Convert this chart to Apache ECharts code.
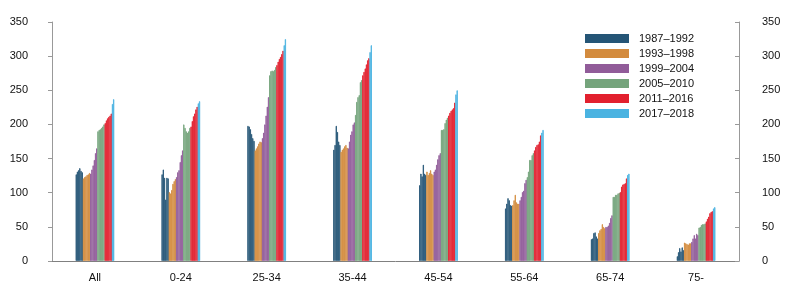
<!DOCTYPE html>
<html>
<head>
<meta charset="utf-8">
<script src="https://cdn.jsdelivr.net/npm/echarts@6/dist/echarts.min.js"></script>
<style>
html,body{margin:0;padding:0;background:#fff;}
#c{width:796px;height:295px;}
</style>
</head>
<body>
<div id="c"></div>
<script>
// Categories (age groups)
var categories = ['All', '0-24', '25-34', '35-44', '45-54', '55-64', '65-74', '75-'];
// Periods (legend) and years belonging to each
var periods = ['1987\u20131992', '1993\u20131998', '1999\u20132004', '2005\u20132010', '2011\u20132016', '2017\u20132018'];
var periodYears = [6, 6, 6, 6, 6, 2];
var periodColors = ['#255576', '#d38b3e', '#915c99', '#75a47c', '#e2202e', '#4ab3e1'];
var yTicks = [0, 50, 100, 150, 200, 250, 300, 350];

// Values per age group, one per year 1987..2018
var vAll   = [127,131,133,136,132,130, 121,123,124,126,127,129, 128,134,140,148,158,165, 190,192,193,195,197,200, 202,206,209,211,213,216, 230,237];
var v0_24  = [127,134,122,90,122,121, 101,99,104,113,117,120, 123,130,133,145,155,162, 200,195,190,188,190,195, 197,205,212,216,222,226, 231,234];
var v25_34 = [198,197,193,186,180,176, 162,165,168,172,175,174, 180,188,200,213,226,240, 272,278,279,278,280,284, 287,292,296,299,303,308, 316,325];
var v35_44 = [163,170,198,189,175,170, 160,163,165,168,170,166, 165,175,185,190,200,203, 214,233,240,243,262,265, 272,277,282,288,294,297, 306,316];
var v45_54 = [111,128,124,141,128,126, 131,126,129,133,128,126, 131,134,141,149,155,158, 192,192,193,202,207,210, 213,217,220,222,224,232, 244,250];
var v55_64 = [77,84,92,89,82,81, 82,89,97,86,84,84, 89,94,101,103,114,119, 123,131,148,148,155,158, 162,167,170,171,175,184, 188,192];
var v65_74 = [32,33,41,42,36,33, 41,45,47,54,50,48, 50,50,52,56,63,67, 94,94,97,97,99,100, 101,109,112,113,114,121, 126,128];
var v75    = [7,13,19,14,20,16, 27,26,25,24,26,26, 28,33,38,33,40,38, 49,50,53,54,54,55, 58,62,65,70,72,73, 77,79];

var groups = [vAll, v0_24, v25_34, v35_44, v45_54, v55_64, v65_74, v75];

var series = [];
var yearIdx = 0;
periods.forEach(function (p, pi) {
  for (var k = 0; k < periodYears[pi]; k++) {
    var idx = yearIdx;
    series.push({
      type: 'bar',
      name: p,
      data: groups.map(function (g) { return g[idx]; }),
      itemStyle: { color: periodColors[pi], borderColor: periodColors[pi], borderWidth: 0.8 },
      barGap: '0%',
      barCategoryGap: '55%',
      silent: true
    });
    yearIdx++;
  }
});

var font = 'Liberation Sans, Arial, Helvetica, sans-serif';
var chart = echarts.init(document.getElementById('c'), null, { renderer: 'canvas' });
chart.setOption({
  animation: false,
  backgroundColor: '#fff',
  textStyle: { fontFamily: font },
  grid: { left: 52, right: 57, top: 22, bottom: 34, containLabel: false },
  legend: {
    data: periods,
    orient: 'vertical',
    left: 580,
    top: 28,
    itemWidth: 42,
    itemHeight: 7,
    itemGap: 4,
    icon: 'rect',
    selectedMode: false,
    textStyle: { fontSize: 11, color: '#111', fontFamily: font, padding: [0, 0, 0, 6] }
  },
  xAxis: {
    type: 'category',
    data: categories,
    axisLine: { lineStyle: { color: '#808080', width: 1 } },
    axisTick: { alignWithLabel: true, length: 3, lineStyle: { color: '#808080' } },
    axisLabel: { color: '#111', fontSize: 11, margin: 11, fontFamily: font }
  },
  yAxis: [
    {
      type: 'value', min: 0, max: 350, interval: 50, position: 'left',
      axisLine: { show: true, lineStyle: { color: '#999' } },
      axisTick: { show: true, length: 4, lineStyle: { color: '#999' } },
      splitLine: { show: false },
      axisLabel: { color: '#111', fontSize: 11, margin: 24, fontFamily: font,
        formatter: function (v) { return yTicks.indexOf(v) >= 0 ? String(v) : ''; } }
    },
    {
      type: 'value', min: 0, max: 350, interval: 50, position: 'right',
      axisLine: { show: true, lineStyle: { color: '#999' } },
      axisTick: { show: true, inside: true, length: 4, lineStyle: { color: '#999' } },
      splitLine: { show: false },
      axisLabel: { color: '#111', fontSize: 11, margin: 23, fontFamily: font,
        formatter: function (v) { return yTicks.indexOf(v) >= 0 ? String(v) : ''; } }
    }
  ],
  series: series
});
</script>
</body>
</html>
